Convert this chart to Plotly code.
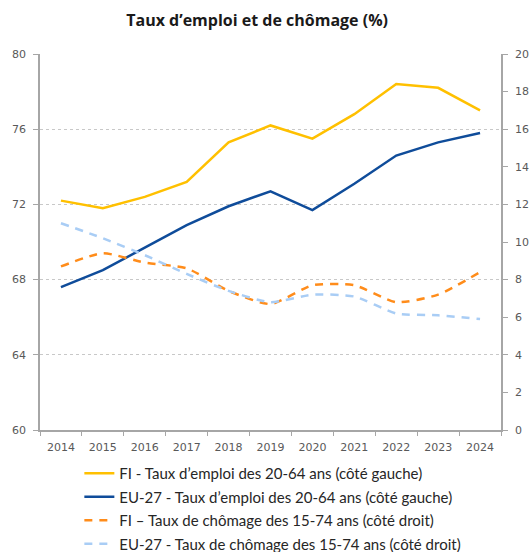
import plotly.graph_objects as go

years = [str(y) for y in range(2014, 2025)]

fi_emploi = [72.2, 71.8, 72.4, 73.2, 75.3, 76.2, 75.5, 76.8, 78.4, 78.2, 77.0]
eu_emploi = [67.6, 68.5, 69.7, 70.9, 71.9, 72.7, 71.7, 73.1, 74.6, 75.3, 75.8]
fi_chomage = [8.7, 9.4, 8.9, 8.6, 7.4, 6.7, 7.7, 7.7, 6.8, 7.2, 8.4]
eu_chomage = [11.0, 10.2, 9.3, 8.3, 7.4, 6.8, 7.2, 7.1, 6.2, 6.1, 5.9]

left_ticks = [60, 64, 68, 72, 76, 80]
right_ticks = list(range(0, 21, 2))

names = [
    "FI - Taux d’emploi des 20-64 ans (côté gauche)",
    "EU-27 - Taux d’emploi des 20-64 ans (côté gauche)",
    "FI – Taux de chômage des 15-74 ans (côté droit)",
    "EU-27 - Taux de chômage des 15-74 ans (côté droit)",
]

fig = go.Figure()
fig.add_trace(go.Scatter(x=years, y=fi_emploi, name=names[0], mode="lines",
                         line=dict(color="#FFC000", width=2.5), legendgroup="a"))
fig.add_trace(go.Scatter(x=years, y=eu_emploi, name=names[1], mode="lines",
                         line=dict(color="#0F4C9A", width=2.5), legendgroup="b"))
fig.add_trace(go.Scatter(x=years, y=fi_chomage, name=names[2], mode="lines",
                         line=dict(color="#FF8C1A", width=2.5, dash="8px,7px", shape="spline", smoothing=0.6),
                         yaxis="y2", legendgroup="c"))
fig.add_trace(go.Scatter(x=years, y=eu_chomage, name=names[3], mode="lines",
                         line=dict(color="#A9CDF5", width=2.5, dash="8px,7px", shape="spline", smoothing=0.6),
                         yaxis="y2", legendgroup="d"))

tick_font = dict(family="DejaVu Sans", size=11, color="#595959")

fig.update_layout(
    width=529, height=552,
    margin=dict(l=40, r=28, t=54, b=122, autoexpand=False),
    paper_bgcolor="white", plot_bgcolor="white",
    title=dict(text="<b>Taux d’emploi et de chômage (%)</b>", x=0.486, xanchor="center",
               y=0.963, yanchor="middle",
               font=dict(family="Open Sans", size=16, color="#1a1a1a")),
    xaxis=dict(type="category", range=[-0.5, 10.5], showgrid=False, showline=True,
               linecolor="#A6A6A6", linewidth=1.5,
               ticks="outside", tickson="boundaries", ticklen=4, tickcolor="#A6A6A6",
               tickfont=tick_font, ticklabelstandoff=6),
    yaxis=dict(range=[60, 80], tickvals=left_ticks, showgrid=True, gridcolor="#C8C8C8",
               griddash="dot", gridwidth=1, showline=True, linecolor="#A6A6A6", linewidth=1.5,
               ticks="outside", ticklen=5, tickcolor="#A6A6A6", tickfont=tick_font, zeroline=False,
               ticklabelstandoff=5),
    yaxis2=dict(range=[0, 20], tickvals=right_ticks, overlaying="y", side="right", showgrid=False,
                showline=True, linecolor="#A6A6A6", linewidth=1.5, ticks="outside", ticklen=5,
                tickcolor="#A6A6A6", tickfont=tick_font, zeroline=False, ticklabelstandoff=5),
    showlegend=True,
    legend=dict(orientation="v", xref="container", x=0.15, xanchor="left",
                yref="container", y=1 - 457 / 552, yanchor="top",
                font=dict(family="Lato", size=15, color="#262626"),
                tracegroupgap=1, itemwidth=30, bgcolor="rgba(0,0,0,0)"),
)

fig.write_html("out.html")
